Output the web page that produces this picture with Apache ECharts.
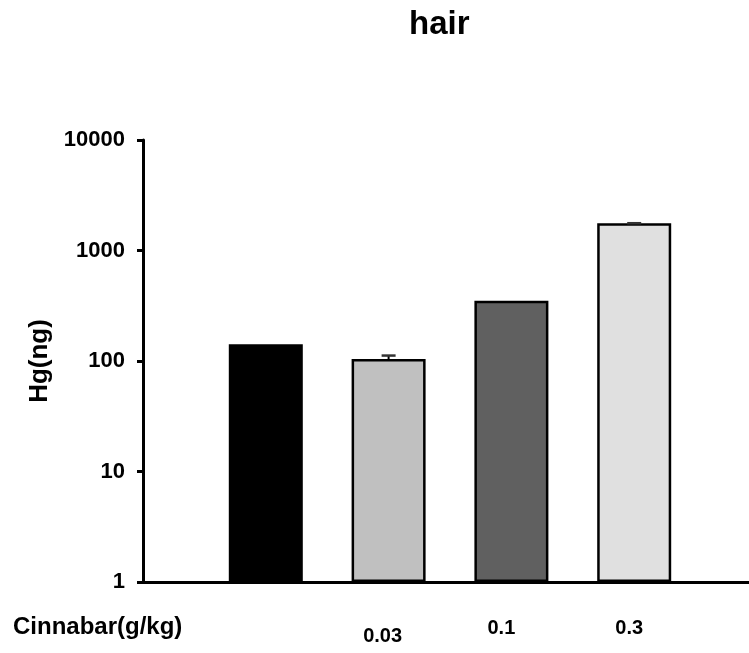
<!DOCTYPE html>
<html>
<head>
<meta charset="utf-8">
<script src="https://cdn.jsdelivr.net/npm/echarts@6/dist/echarts.min.js"></script>
<style>html,body{margin:0;padding:0;background:#fff}#c{width:749px;height:653px}</style>
</head>
<body>
<div id="c"></div>
<script>
// categories (first and last are empty padding slots, second is the control group)
var categories = ['', '', '0.03', '0.1', '0.3', ''];
var hgValues = [null, 142, 104, 351, 1760, null];
var hgErrors = [null, 0, 8, 0, 6, null];
var barColors = ['#ffffff', '#000000', '#c0c0c0', '#606060', '#e0e0e0', '#ffffff'];
var yTicks = [1, 10, 100, 1000, 10000];
var titleText = 'hair';
var yName = 'Hg(ng)';
var xName = 'Cinnabar(g/kg)';

var FONT = '"Liberation Sans", Arial, sans-serif';
var chart = echarts.init(document.getElementById('c'), null, {renderer: 'canvas'});

var barData = hgValues.map(function (v, i) {
  return v == null ? '-' : {value: v, itemStyle: {color: barColors[i]}};
});
var errData = [];
hgValues.forEach(function (v, i) {
  if (v != null && hgErrors[i] > 0) errData.push([i, v, v + hgErrors[i]]);
});

chart.setOption({
  animation: false,
  title: {
    text: titleText, left: 404, top: 3,
    textStyle: {fontFamily: FONT, fontSize: 33, fontWeight: 'bold', color: '#000'}
  },
  graphic: [{
    type: 'text', left: 13, top: 615,
    style: {text: xName, fontFamily: FONT, fontSize: 24, fontWeight: 'bold', fill: '#000'}
  }],
  grid: {left: 143, width: 614, top: 140, bottom: 71, containLabel: false, outerBoundsMode: 'none'},
  xAxis: {
    type: 'category', data: categories, boundaryGap: false,
    axisLine: {lineStyle: {color: '#000', width: 3}},
    axisTick: {show: false},
    axisLabel: {
      interval: 0, margin: 36, color: '#000',
      fontFamily: FONT, fontSize: 20, fontWeight: 'bold',
      formatter: function (v) {
        if (v === '0.03') return '{a|' + v + '}';
        if (v === '0.1') return '{b|' + v + '}';
        if (v === '0.3') return '{c|' + v + '}';
        return '';
      },
      rich: {
        a: {fontFamily: FONT, fontSize: 20, fontWeight: 'bold', padding: [8, 12, 0, 0]},
        b: {fontFamily: FONT, fontSize: 20, fontWeight: 'bold', padding: [0, 20, 0, 0]},
        c: {fontFamily: FONT, fontSize: 20, fontWeight: 'bold', padding: [0, 10, 0, 0]}
      }
    },
    splitLine: {show: false}
  },
  yAxis: {
    type: 'log', logBase: 10, min: yTicks[0], max: yTicks[yTicks.length - 1],
    name: yName, nameLocation: 'middle', nameRotate: 90, nameGap: 87,
    nameTextStyle: {fontFamily: FONT, fontSize: 26, fontWeight: 'bold', color: '#000'},
    axisLine: {show: true, lineStyle: {color: '#000', width: 3}},
    axisTick: {show: true, inside: false, length: 6, lineStyle: {color: '#000', width: 3}},
    axisLabel: {
      margin: 18, color: '#000', fontFamily: FONT, fontSize: 22, fontWeight: 'bold',
      formatter: function (v) { return String(Math.round(v)); }
    },
    splitLine: {show: false},
    minorTick: {show: false}
  },
  series: [{
    type: 'bar', data: barData, barWidth: 74,
    itemStyle: {borderColor: '#000', borderWidth: 2.5}
  }, {
    type: 'custom', data: errData, z: 10, clip: false,
    encode: {x: 0, y: [1, 2]},
    renderItem: function (params, api) {
      var x = api.value(0);
      var lo = api.coord([x, api.value(1)]);
      var hi = api.coord([x, api.value(2)]);
      var w = 7;
      return {
        type: 'group',
        children: [
          {type: 'line', shape: {x1: lo[0], y1: lo[1], x2: hi[0], y2: hi[1]}, style: {stroke: '#000', lineWidth: 2}},
          {type: 'line', shape: {x1: hi[0] - w, y1: hi[1], x2: hi[0] + w, y2: hi[1]}, style: {stroke: '#333', lineWidth: 2.5}}
        ]
      };
    }
  }]
});
</script>
</body>
</html>
